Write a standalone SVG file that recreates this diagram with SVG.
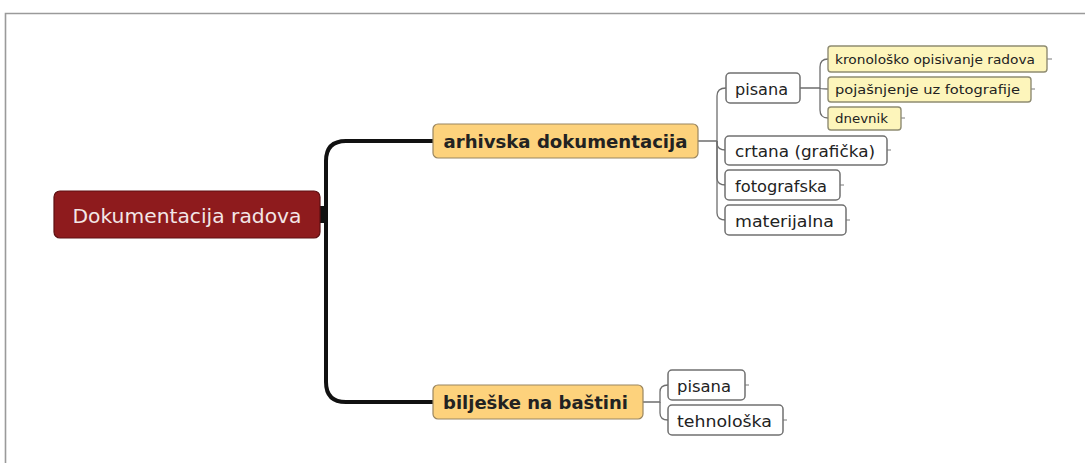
<svg xmlns="http://www.w3.org/2000/svg" width="1085" height="463" viewBox="0 0 1085 463">
<style>
text{font-family:"DejaVu Sans","Liberation Sans",sans-serif;fill:#222222}
.root{fill:#8e1b1d;stroke:#5e1012;stroke-width:1.2}
.main{fill:#fdd27c;stroke:#9a8660;stroke-width:1.2}
.leaf{fill:#ffffff;stroke:#707070;stroke-width:1.5}
.note{fill:#fdf5bb;stroke:#8f8c72;stroke-width:1.4}
.thick{fill:none;stroke:#111;stroke-width:4}
.thin{fill:none;stroke:#6e6e6e;stroke-width:1.3}
.stub{stroke:#7a7a7a;stroke-width:1}
</style>
<rect x="0" y="0" width="1085" height="463" fill="#ffffff"/>
<path d="M5.5 463 V13.5 H1085" fill="none" stroke="#9a9a9a" stroke-width="1.6"/>

<g id="connectors">
<rect x="319" y="206" width="9" height="17" fill="#111"/>
<path class="thick" d="M326 214 V161 Q326 141 346 141 H434"/>
<path class="thick" d="M326 214 V382 Q326 402 346 402 H434"/>
<path class="thin" d="M698 141 H717 V96 Q717 88 726 88"/>
<path class="thin" d="M717 141 V143 Q717 150 726 150"/>
<path class="thin" d="M717 141 V178 Q717 185 726 185"/>
<path class="thin" d="M717 141 V213 Q717 220 726 220"/>
<path class="thin" d="M800 88 H820 V67 Q820 59 828 59"/>
<path class="thin" d="M820 88 Q820 89 828 89"/>
<path class="thin" d="M820 88 V110 Q820 118 828 118"/>
<path class="thin" d="M643 402 H660 V392 Q660 385 668 385"/>
<path class="thin" d="M660 402 V413 Q660 420 668 420"/>
<line class="stub" x1="1047" y1="59" x2="1052" y2="59"/>
<line class="stub" x1="1031" y1="89" x2="1035" y2="89"/>
<line class="stub" x1="901" y1="118" x2="905" y2="118"/>
<line class="stub" x1="887" y1="150" x2="891" y2="150"/>
<line class="stub" x1="840" y1="185" x2="844" y2="185"/>
<line class="stub" x1="846" y1="220" x2="850" y2="220"/>
<line class="stub" x1="745" y1="385" x2="749" y2="385"/>
<line class="stub" x1="783" y1="420" x2="787" y2="420"/>
</g>

<g id="root">
<rect class="root" x="54" y="191" width="266" height="47" rx="6"/>
<text x="187" y="223" font-size="20" text-anchor="middle" style="fill:#f3e6e6" textLength="229" lengthAdjust="spacingAndGlyphs">Dokumentacija radova</text>
</g>

<g id="arhivska">
<rect class="main" x="433" y="124" width="265" height="34" rx="5"/>
<text x="565.5" y="147.5" font-size="18" font-weight="bold" text-anchor="middle" textLength="244" lengthAdjust="spacingAndGlyphs">arhivska dokumentacija</text>
</g>

<g id="biljeske">
<rect class="main" x="433" y="385" width="210" height="34" rx="5"/>
<text x="535.5" y="408.5" font-size="18" font-weight="bold" text-anchor="middle" textLength="185" lengthAdjust="spacingAndGlyphs">bilješke na baštini</text>
</g>

<g id="pisana1">
<rect class="leaf" x="726" y="73" width="74" height="30" rx="4"/>
<text x="761.5" y="94.5" font-size="16" text-anchor="middle" textLength="53" lengthAdjust="spacingAndGlyphs">pisana</text>
</g>

<g id="kronolosko">
<rect class="note" x="828" y="46" width="219" height="26" rx="3"/>
<text x="935" y="64" font-size="13" text-anchor="middle" textLength="200" lengthAdjust="spacingAndGlyphs">kronološko opisivanje radova</text>
</g>

<g id="pojasnjenje">
<rect class="note" x="828" y="77" width="203" height="25" rx="3"/>
<text x="927.5" y="94" font-size="13" text-anchor="middle" textLength="185" lengthAdjust="spacingAndGlyphs">pojašnjenje uz fotografije</text>
</g>

<g id="dnevnik">
<rect class="note" x="828" y="107" width="73" height="23" rx="3"/>
<text x="861.5" y="123" font-size="13" text-anchor="middle" textLength="53" lengthAdjust="spacingAndGlyphs">dnevnik</text>
</g>

<g id="crtana">
<rect class="leaf" x="725" y="136" width="162" height="29" rx="4"/>
<text x="805" y="156.5" font-size="16" text-anchor="middle" textLength="140" lengthAdjust="spacingAndGlyphs">crtana (grafička)</text>
</g>

<g id="fotografska">
<rect class="leaf" x="725" y="170" width="115" height="30" rx="4"/>
<text x="781" y="191.5" font-size="16" text-anchor="middle" textLength="92" lengthAdjust="spacingAndGlyphs">fotografska</text>
</g>

<g id="materijalna">
<rect class="leaf" x="725" y="205" width="121" height="30" rx="4"/>
<text x="784.5" y="226.5" font-size="16" text-anchor="middle" textLength="99" lengthAdjust="spacingAndGlyphs">materijalna</text>
</g>

<g id="pisana2">
<rect class="leaf" x="668" y="370" width="77" height="30" rx="4"/>
<text x="704" y="391.5" font-size="16" text-anchor="middle" textLength="54" lengthAdjust="spacingAndGlyphs">pisana</text>
</g>

<g id="tehnoloska">
<rect class="leaf" x="668" y="405" width="115" height="30" rx="4"/>
<text x="724.5" y="426.5" font-size="16" text-anchor="middle" textLength="95" lengthAdjust="spacingAndGlyphs">tehnološka</text>
</g>
</svg>
